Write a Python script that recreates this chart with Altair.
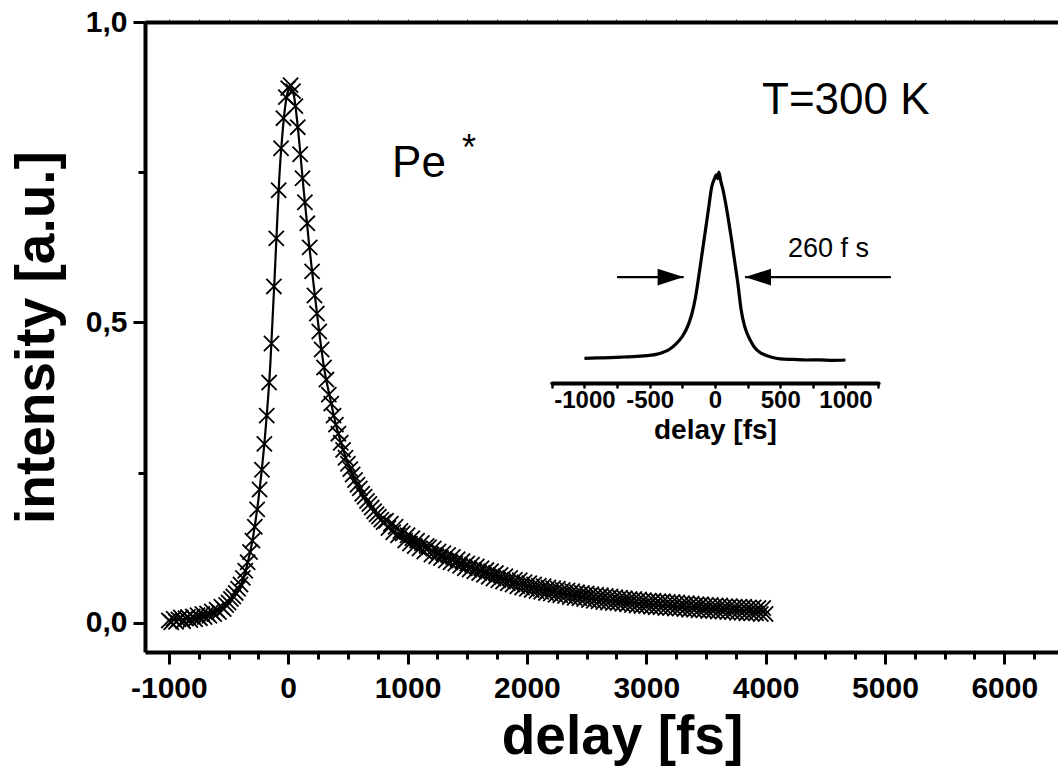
import altair as alt
import pandas as pd

# ---------------- data ----------------
delay_fs = list(range(-1000, 4001, 20))
intensity = [
    # -1000 .. -820
    0.004, 0.001, 0.007, 0.002, 0.006, 0.009, 0.003, 0.008, 0.010, 0.005,
    # -800 .. -620
    0.011, 0.006, 0.013, 0.008, 0.015, 0.010, 0.016, 0.012, 0.019, 0.015,
    # -600 .. -420
    0.022, 0.018, 0.027, 0.023, 0.030, 0.034, 0.040, 0.044, 0.050, 0.057,
    # -400 .. -220
    0.064, 0.075, 0.087, 0.101, 0.118, 0.137, 0.160, 0.189, 0.222, 0.255,
    # -200 .. -20
    0.298, 0.345, 0.400, 0.465, 0.560, 0.640, 0.720, 0.790, 0.840, 0.875,
    # 0 .. 180
    0.890, 0.895, 0.885, 0.860, 0.825, 0.780, 0.740, 0.700, 0.665, 0.625,
    # 200 .. 380
    0.585, 0.545, 0.515, 0.485, 0.455, 0.425, 0.405, 0.380, 0.365, 0.345,
    # 400 .. 580
    0.330, 0.315, 0.300, 0.288, 0.275, 0.265, 0.256, 0.247, 0.238, 0.230,
    # 600 .. 780
    0.224, 0.215, 0.210, 0.203, 0.198, 0.192, 0.186, 0.181, 0.177, 0.172,
    # 800
    0.168,
    # 820 .. 1000
    0.170, 0.158, 0.165, 0.151, 0.160, 0.146, 0.153, 0.149, 0.137, 0.146,
    # 1020 .. 1200
    0.132, 0.141, 0.128, 0.137, 0.124, 0.133, 0.119, 0.128, 0.126, 0.114,
    # 1220 .. 1400
    0.124, 0.111, 0.119, 0.108, 0.116, 0.104, 0.113, 0.101, 0.110, 0.099,
    # 1420 .. 1600
    0.106, 0.095, 0.103, 0.091, 0.099, 0.089, 0.097, 0.086, 0.094, 0.083,
    # 1620 .. 1800
    0.091, 0.080, 0.088, 0.077, 0.086, 0.074, 0.083, 0.071, 0.080, 0.069,
    # 1820 .. 2000
    0.078, 0.066, 0.075, 0.064, 0.072, 0.061, 0.071, 0.059, 0.068, 0.057,
    # 2020 .. 2200
    0.066, 0.055, 0.064, 0.053, 0.062, 0.052, 0.061, 0.050, 0.059, 0.049,
    # 2220 .. 2400
    0.058, 0.047, 0.057, 0.046, 0.055, 0.045, 0.054, 0.043, 0.053, 0.042,
    # 2420 .. 2600
    0.051, 0.041, 0.050, 0.040, 0.049, 0.038, 0.048, 0.037, 0.047, 0.036,
    # 2620 .. 2800
    0.046, 0.035, 0.045, 0.034, 0.044, 0.033, 0.043, 0.033, 0.042, 0.032,
    # 2820 .. 3000
    0.041, 0.031, 0.040, 0.030, 0.040, 0.029, 0.039, 0.028, 0.038, 0.028,
    # 3020 .. 3200
    0.037, 0.027, 0.037, 0.026, 0.036, 0.026, 0.036, 0.025, 0.035, 0.025,
    # 3220 .. 3400
    0.035, 0.024, 0.034, 0.024, 0.033, 0.023, 0.033, 0.022, 0.032, 0.022,
    # 3420 .. 3600
    0.031, 0.021, 0.031, 0.021, 0.030, 0.020, 0.030, 0.020, 0.029, 0.019,
    # 3620 .. 3800
    0.029, 0.019, 0.028, 0.018, 0.028, 0.018, 0.027, 0.017, 0.027, 0.017,
    # 3820 .. 4000
    0.027, 0.016, 0.026, 0.016, 0.026, 0.016, 0.025, 0.015, 0.025, 0.015,
]

fit_delay = [-1000, -900, -800, -700, -600, -500, -450, -400, -350, -300,
             -250, -200, -150, -100, -75, -50, -25, 0, 25, 50,
             75, 100, 125, 150, 175, 200, 250, 300, 350, 400,
             450, 500, 600, 700, 800, 900, 1000, 1200, 1400, 1600,
             1800, 2000, 2250, 2500, 2750, 3000, 3250, 3500, 3750, 4000]
fit_intensity = [0.004, 0.006, 0.009, 0.012, 0.019, 0.032, 0.045, 0.062, 0.092, 0.137,
                 0.205, 0.298, 0.430, 0.635, 0.740, 0.810, 0.860, 0.885, 0.890, 0.875,
                 0.835, 0.785, 0.730, 0.680, 0.630, 0.585, 0.500, 0.425, 0.375, 0.330,
                 0.295, 0.265, 0.222, 0.190, 0.166, 0.151, 0.140, 0.120, 0.102, 0.087,
                 0.073, 0.061, 0.051, 0.043, 0.037, 0.032, 0.028, 0.025, 0.022, 0.019]

inset_delay = [-1000, -900, -800, -700, -600, -500, -450, -400, -350, -300,
               -250, -200, -175, -150, -125, -100, -75, -50, -25, 0,
               10, 20, 30, 45, 60, 80, 100, 125, 150, 175,
               200, 225, 250, 275, 300, 350, 400, 450, 500, 600,
               700, 800, 900, 1000]
inset_intensity = [0.009, 0.011, 0.013, 0.016, 0.019, 0.025, 0.030, 0.040, 0.056, 0.085,
                   0.125, 0.195, 0.250, 0.330, 0.440, 0.560, 0.680, 0.800, 0.920, 0.970,
                   0.985, 0.965, 1.000, 0.950, 0.910, 0.840, 0.760, 0.650, 0.530, 0.410,
                   0.270, 0.185, 0.135, 0.100, 0.070, 0.038, 0.022, 0.012, 0.006, 0.003,
                   0.000, 0.001, -0.002, 0.000]

x_major = [-1000, 0, 1000, 2000, 3000, 4000, 5000, 6000]
x_minor = list(range(-1000, 6251, 250))
y_major = [0.0, 0.5, 1.0]
y_minor = [0.25, 0.75]
inset_ticks = list(range(-1250, 1251, 250))

# annotation anchors (data coordinates)
arrow_x0 = [-750, 1348]
arrow_x1 = [-240, 230]
arrow_y = [0.441, 0.441]

FONT = "Liberation Sans"
W, H = 913, 630

pts = pd.DataFrame({"delay": delay_fs, "intensity": intensity})
fit = pd.DataFrame({"delay": fit_delay, "intensity": fit_intensity})
ins = pd.DataFrame({"delay": inset_delay, "intensity": inset_intensity})
arrows = pd.DataFrame({"x0": arrow_x0, "x1": arrow_x1, "y": arrow_y})


def xs_main():
    return alt.Scale(domain=[-1200, 6450], nice=False, zero=False)


def ys_main():
    return alt.Scale(domain=[-0.0483, 1.0], nice=False, zero=False)


def xs_inset():
    return alt.Scale(domain=[-1250, 1250], range=[406.8, 733.1], nice=False, zero=False)


def ys_inset():
    return alt.Scale(domain=[0, 1], range=[338, 150], nice=False, zero=False)


scatter = alt.Chart(pts).mark_point(
    shape="M-1,-1L1,1M-1,1L1,-1", filled=False, size=230, strokeWidth=1.8,
    color="black", opacity=1,
).encode(
    x=alt.X("delay:Q", scale=xs_main(), axis=alt.Axis(
        orient="bottom", values=x_major, labelExpr="toString(datum.value)",
        grid=False, domainWidth=4, domainColor="black", tickWidth=3, tickColor="black",
        tickSize=12, labelFont=FONT, labelFontWeight="bold", labelFontSize=30,
        labelColor="black", labelPadding=9, labelOverlap=False, labelBound=False,
        title="delay [fs]", titleFont=FONT, titleFontWeight="bold", titleFontSize=55,
        titleColor="black", titleX=477, titleY=101, titleBaseline="alphabetic",
        titleAnchor="start", titleAlign="center",
    )),
    y=alt.Y("intensity:Q", scale=ys_main(), axis=alt.Axis(
        orient="left", values=y_major,
        labelExpr="replace(format(datum.value, '.1f'), '.', ',')",
        grid=False, domainWidth=4, domainColor="black", tickWidth=3, tickColor="black",
        tickSize=12, labelFont=FONT, labelFontWeight="bold", labelFontSize=30,
        labelColor="black", labelPadding=6, labelOverlap=False, labelBound=False,
        title="intensity [a.u.]", titleFont=FONT, titleFontWeight="bold", titleFontSize=55,
        titleColor="black", titleAngle=270, titleX=-92, titleY=315,
        titleBaseline="alphabetic", titleAlign="center", titleAnchor="start",
    )),
)

fit_line = alt.Chart(fit).mark_line(color="black", strokeWidth=2.2, interpolate="monotone").encode(
    x=alt.X("delay:Q", scale=xs_main(), axis=alt.Axis(
        orient="bottom", values=x_minor, labels=False, domain=False, grid=False,
        tickSize=7, tickWidth=3, tickColor="black", title=None)),
    y=alt.Y("intensity:Q", scale=ys_main(), axis=alt.Axis(
        orient="left", values=y_minor, labels=False, domain=False, grid=False,
        tickSize=7, tickWidth=3, tickColor="black", title=None)),
)

top_axis = alt.Chart(fit).mark_line(opacity=0).encode(
    x=alt.X("delay:Q", scale=xs_main(), axis=alt.Axis(
        orient="top", values=x_minor, labels=False, grid=False, domainWidth=4,
        domainColor="black", tickSize=3, tickWidth=1, tickColor="#555555", title=None)),
    y=alt.Y("intensity:Q", scale=ys_main(), axis=None),
)

inset_line = alt.Chart(ins).mark_line(color="black", strokeWidth=3.2, interpolate="monotone").encode(
    x=alt.X("delay:Q", scale=xs_inset(), axis=alt.Axis(
        orient="bottom", offset=-269, values=inset_ticks,
        labelExpr="datum.value % 500 == 0 ? toString(datum.value) : ''",
        grid=False, domainWidth=4, domainColor="black", domainCap="round",
        tickSize=4, tickWidth=2.5, tickColor="black", tickCap="round",
        labelFont=FONT, labelFontWeight="bold", labelFontSize=24, labelColor="black",
        labelPadding=1, labelOverlap=False, labelBound=False,
        title="delay [fs]", titleFont=FONT, titleFontWeight="bold", titleFontSize=28,
        titleColor="black", titlePadding=4)),
    y=alt.Y("intensity:Q", scale=ys_inset(), axis=None),
)

arrow_lines = alt.Chart(arrows).mark_rule(color="black", strokeWidth=2.2).encode(
    x=alt.X("x0:Q", scale=xs_inset(), axis=None),
    x2="x1:Q",
    y=alt.Y("y:Q", scale=ys_inset(), axis=None),
)

head_right = alt.Chart(arrows.iloc[[0]]).mark_point(
    shape="M-2,-0.64L0,0L-2,0.64Z", filled=True, size=676, color="black", opacity=1,
).encode(
    x=alt.X("x1:Q", scale=xs_inset(), axis=None),
    y=alt.Y("y:Q", scale=ys_inset(), axis=None),
)

head_left = alt.Chart(arrows.iloc[[1]]).mark_point(
    shape="M2,-0.64L0,0L2,0.64Z", filled=True, size=676, color="black", opacity=1,
).encode(
    x=alt.X("x1:Q", scale=xs_inset(), axis=None),
    y=alt.Y("y:Q", scale=ys_inset(), axis=None),
)


def main_text(txt, x, y, size, align="left"):
    d = pd.DataFrame({"x": [x], "y": [y], "t": [txt]})
    return alt.Chart(d).mark_text(
        font=FONT, fontSize=size, align=align, baseline="alphabetic", color="black"
    ).encode(
        x=alt.X("x:Q", scale=xs_main(), axis=None),
        y=alt.Y("y:Q", scale=ys_main(), axis=None),
        text="t:N",
    )


t_temp = main_text("T=300 K", 3970, 0.847, 44)
t_pe = main_text("Pe", 870, 0.742, 44)
t_star = main_text("*", 1515, 0.770, 36, align="center")

fwhm_df = pd.DataFrame({"x": [559], "y": [0.548], "t": ["260 f s"]})
t_fwhm = alt.Chart(fwhm_df).mark_text(
    font=FONT, fontSize=27, align="left", baseline="alphabetic", color="black"
).encode(
    x=alt.X("x:Q", scale=xs_inset(), axis=None),
    y=alt.Y("y:Q", scale=ys_inset(), axis=None),
    text="t:N",
)

chart = alt.layer(
    top_axis, fit_line, scatter, inset_line, arrow_lines, head_right, head_left,
    t_temp, t_pe, t_star, t_fwhm,
).resolve_scale(
    x="independent", y="independent"
).resolve_axis(
    x="independent", y="independent"
).properties(
    width=W, height=H,
    autosize=alt.AutoSizeParams(type="none"),
    padding={"left": 145, "top": 22, "right": 0, "bottom": 119},
    background="white",
).configure_view(stroke=None)

chart.save("out.html", embed_options={"renderer": "svg", "actions": False})
